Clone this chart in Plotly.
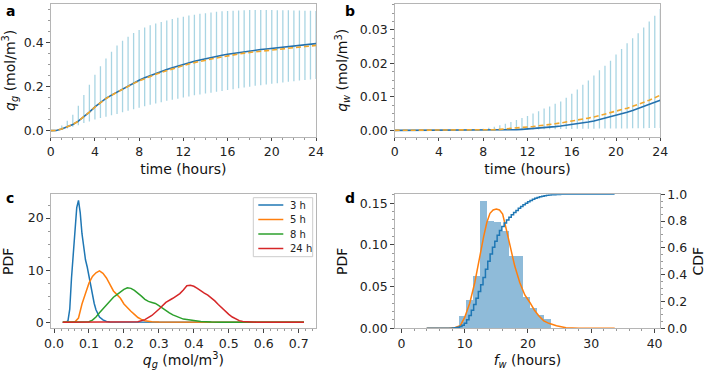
import plotly.graph_objects as go

# ---------------- data ----------------
# panel a / b : time grid (hours)
time_h = [0, 0.5, 1, 1.5, 2, 2.5, 3, 3.5, 4, 4.5, 5, 5.5, 6, 6.5, 7, 7.5, 8, 8.5, 9, 9.5,
          10, 10.5, 11, 11.5, 12, 12.5, 13, 13.5, 14, 14.5, 15, 15.5, 16, 16.5, 17, 17.5,
          18, 18.5, 19, 19.5, 20, 20.5, 21, 21.5, 22, 22.5, 23, 23.5, 24]

qg_lower = [0, 0, 0.005, 0.01, 0.018, 0.025, 0.035, 0.042, 0.05, 0.057, 0.063, 0.07, 0.076, 0.083,
            0.09, 0.097, 0.104, 0.111, 0.117, 0.123, 0.129, 0.135, 0.14, 0.145, 0.15, 0.155, 0.16,
            0.164, 0.168, 0.172, 0.176, 0.18, 0.184, 0.188, 0.192, 0.195, 0.199, 0.203, 0.206,
            0.209, 0.212, 0.215, 0.218, 0.221, 0.224, 0.227, 0.229, 0.232, 0.234]
qg_upper = [0, 0.002, 0.023, 0.045, 0.072, 0.113, 0.161, 0.208, 0.253, 0.291, 0.327, 0.357, 0.385,
            0.407, 0.425, 0.442, 0.456, 0.467, 0.477, 0.485, 0.492, 0.499, 0.505, 0.511, 0.516,
            0.521, 0.525, 0.529, 0.532, 0.535, 0.538, 0.540, 0.542, 0.543, 0.544, 0.545, 0.546,
            0.546, 0.546, 0.546, 0.546, 0.545, 0.545, 0.545, 0.544, 0.544, 0.543, 0.543, 0.542]
qg_mean = [0.0, 0.001, 0.008, 0.017, 0.028, 0.043, 0.062, 0.084, 0.108, 0.128, 0.146, 0.161, 0.175,
           0.189, 0.203, 0.216, 0.228, 0.239, 0.249, 0.259, 0.268, 0.277, 0.285, 0.293, 0.301,
           0.308, 0.314, 0.320, 0.326, 0.331, 0.336, 0.341, 0.346, 0.350, 0.354, 0.358, 0.361,
           0.364, 0.367, 0.370, 0.373, 0.376, 0.379, 0.381, 0.384, 0.386, 0.389, 0.391, 0.394]
qg_model = [0.0, 0.001, 0.008, 0.017, 0.028, 0.043, 0.062, 0.084, 0.107, 0.127, 0.145, 0.160, 0.174,
            0.188, 0.201, 0.214, 0.225, 0.236, 0.246, 0.255, 0.264, 0.272, 0.280, 0.287, 0.295,
            0.302, 0.308, 0.314, 0.319, 0.324, 0.329, 0.334, 0.339, 0.343, 0.347, 0.351, 0.354,
            0.357, 0.360, 0.363, 0.366, 0.369, 0.371, 0.374, 0.376, 0.379, 0.381, 0.383, 0.386]

qw_lower = [0, 0, 0, 0, 0, 0, 0, 0, 0, 0, 0, 0, 0, 0, 0, 0, 0, 0, 0.00005, 0.00008,
            0.0001, 0.00012, 0.00015, 0.00018, 0.0002, 0.00023, 0.00026, 0.0003, 0.00032, 0.00035,
            0.00037, 0.0004, 0.00042, 0.00044, 0.00046, 0.00048, 0.0005, 0.00051, 0.00052, 0.00053,
            0.00055, 0.00056, 0.00058, 0.0006, 0.00062, 0.00064, 0.00066, 0.00068, 0.0007]
qw_upper = [0, 0, 0, 0, 0, 0, 0, 0, 0, 0, 0, 0, 0.00003, 0.00008, 0.00015, 0.0003, 0.0005,
            0.0008, 0.0011, 0.0015, 0.002, 0.0025, 0.0031, 0.0037, 0.0043, 0.005, 0.0057, 0.0065,
            0.0071, 0.0079, 0.0086, 0.0097, 0.0109, 0.0122, 0.0136, 0.0149, 0.0164, 0.0179, 0.0193,
            0.0208, 0.0226, 0.0243, 0.026, 0.0275, 0.029, 0.0307, 0.0325, 0.0342, 0.0362]
qw_mean = [0, 0, 0, 0, 0, 0, 0, 0, 0, 0, 0, 0, 0, 0, 0, 0, 0.00001, 0.00003, 0.00005, 0.00008,
           0.0001, 0.00015, 0.0002, 0.0003, 0.0004, 0.0005, 0.0006, 0.00075, 0.0009, 0.0011,
           0.0013, 0.0015, 0.0017, 0.00195, 0.0022, 0.0025, 0.0028, 0.0032, 0.0036, 0.00405,
           0.0045, 0.00495, 0.0054, 0.00595, 0.0065, 0.0071, 0.0077, 0.00835, 0.009]
qw_model = [0, 0, 0, 0, 0, 0, 0, 0, 0, 0, 0, 0, 0, 0, 0, 0.00003, 0.0001, 0.00015, 0.0002, 0.0003,
            0.0004, 0.00055, 0.0007, 0.00085, 0.001, 0.00115, 0.0013, 0.0015, 0.0017, 0.00195,
            0.0022, 0.00245, 0.0027, 0.003, 0.0033, 0.00365, 0.004, 0.0044, 0.0048, 0.00525,
            0.0057, 0.00615, 0.0066, 0.00715, 0.0077, 0.00835, 0.009, 0.00975, 0.0105]

# panel c : PDFs of q_g at several times
pdf3_x = [0.025, 0.035, 0.040, 0.045, 0.050, 0.055, 0.060, 0.065, 0.070, 0.075, 0.080, 0.085,
          0.090, 0.095, 0.100, 0.105, 0.110, 0.115, 0.120, 0.130, 0.140, 0.150, 0.160, 0.715]
pdf3_y = [0, 0, 0.3, 2.5, 8.5, 13.5, 18.0, 22.0, 23.4, 21.0, 17.0, 14.0, 12.0, 10.6, 8.8, 6.8,
          5.0, 3.6, 2.4, 1.0, 0.45, 0.15, 0.03, 0]
pdf5_x = [0.025, 0.055, 0.060, 0.070, 0.080, 0.090, 0.100, 0.110, 0.120, 0.130, 0.140, 0.150,
          0.160, 0.170, 0.180, 0.190, 0.200, 0.210, 0.220, 0.230, 0.240, 0.250, 0.260, 0.280,
          0.300, 0.715]
pdf5_y = [0, 0, 0.1, 0.8, 3.5, 5.5, 7.5, 8.8, 9.5, 9.85, 9.4, 8.5, 7.3, 6.0, 5.3, 4.6, 3.5, 2.7,
          2.1, 1.5, 0.9, 0.55, 0.3, 0.1, 0.02, 0]
pdf8_x = [0.025, 0.090, 0.100, 0.110, 0.120, 0.130, 0.140, 0.150, 0.160, 0.170, 0.180, 0.190,
          0.200, 0.210, 0.220, 0.230, 0.240, 0.250, 0.260, 0.270, 0.280, 0.290, 0.300, 0.310,
          0.320, 0.330, 0.340, 0.350, 0.360, 0.370, 0.380, 0.390, 0.400, 0.420, 0.450, 0.480,
          0.715]
pdf8_y = [0, 0, 0.1, 0.4, 1.0, 1.8, 2.6, 3.4, 4.2, 4.8, 5.3, 5.8, 6.3, 6.6, 6.5, 6.1, 5.6, 5.0,
          4.4, 4.0, 3.8, 3.6, 3.2, 2.7, 2.2, 1.8, 1.4, 1.1, 0.8, 0.6, 0.5, 0.4, 0.3, 0.15, 0.03,
          0, 0]
pdf24_x = [0.025, 0.220, 0.240, 0.260, 0.280, 0.300, 0.320, 0.340, 0.350, 0.360, 0.370, 0.380,
           0.390, 0.400, 0.410, 0.420, 0.430, 0.440, 0.450, 0.460, 0.470, 0.480, 0.490, 0.500,
           0.510, 0.520, 0.530, 0.540, 0.560, 0.580, 0.715]
pdf24_y = [0, 0, 0.1, 0.5, 1.3, 2.5, 3.8, 4.6, 5.0, 5.5, 6.2, 7.0, 7.1, 6.9, 6.5, 6.0, 5.6, 5.2,
           4.7, 4.1, 3.4, 2.7, 2.1, 1.5, 1.0, 0.6, 0.3, 0.15, 0.03, 0, 0]
pdf_labels = ["3 h", "5 h", "8 h", "24 h"]
pdf_colors = ["#1f77b4", "#ff7f0e", "#2ca02c", "#d62728"]

# panel d : histogram, KDE and CDF of f_w
hist_edges = [9.1, 10.2, 11.3, 12.4, 13.5, 14.65, 15.75, 16.9, 18.0, 19.1, 20.2, 21.35, 22.5, 23.6]
hist_density = [0.015, 0.034, 0.063, 0.153, 0.128, 0.127, 0.116, 0.086, 0.087, 0.037, 0.024,
                0.016, 0.011]
kde_x = [4.0, 7.5, 8.5, 9.3, 10.0, 10.8, 11.6, 12.4, 13.0, 13.5, 14.0, 14.5, 15.0, 15.5, 16.0,
         16.6, 17.2, 17.9, 18.7, 19.5, 20.3, 21.0, 21.7, 22.5, 23.3, 24.5, 26.0, 28.0, 33.7]
kde_y = [0, 0, 0.001, 0.003, 0.013, 0.03, 0.055, 0.088, 0.11, 0.127, 0.138, 0.142, 0.143, 0.142,
         0.137, 0.118, 0.098, 0.075, 0.055, 0.04, 0.031, 0.022, 0.015, 0.009, 0.006, 0.003,
         0.0006, 0, 0]
cdf_x = [4.00, 4.37, 4.74, 5.11, 5.48, 5.86, 6.23, 6.60, 6.97, 7.34, 7.71, 8.08, 8.45, 8.82, 9.19,
         9.57, 9.94, 10.31, 10.68, 11.05, 11.42, 11.79, 12.16, 12.53, 12.90, 13.28, 13.65, 14.02,
         14.39, 14.76, 15.13, 15.50, 15.87, 16.24, 16.61, 16.99, 17.36, 17.73, 18.10, 18.47,
         18.84, 19.21, 19.58, 19.95, 20.32, 20.70, 21.07, 21.44, 21.81, 22.18, 22.55, 22.92,
         23.29, 23.66, 24.03, 24.41, 24.78, 25.15, 25.52, 25.89, 26.26, 26.63, 27.00, 27.37,
         27.74, 28.12, 28.49, 28.86, 29.23, 29.60, 29.97, 30.34, 30.71, 31.08, 31.45, 31.82,
         32.20, 32.57, 32.94, 33.31, 33.68]
cdf_y = [0, 0, 0, 0, 0, 0, 0, 0, 0, 0, 0, 0, 0.002, 0.004, 0.007, 0.013, 0.022, 0.038, 0.063,
         0.095, 0.135, 0.178, 0.225, 0.275, 0.325, 0.38, 0.44, 0.50, 0.555, 0.605, 0.65, 0.695,
         0.73, 0.76, 0.785, 0.808, 0.828, 0.847, 0.864, 0.88, 0.895, 0.909, 0.922, 0.934, 0.945,
         0.954, 0.963, 0.97, 0.976, 0.981, 0.985, 0.989, 0.992, 0.994, 0.996, 0.997, 0.998,
         0.999, 1.0, 1.0, 1.0, 1.0, 1.0, 1.0, 1.0, 1.0, 1.0, 1.0, 1.0, 1.0, 1.0, 1.0, 1.0, 1.0,
         1.0, 1.0, 1.0, 1.0, 1.0, 1.0, 1.0]

# ---------------- figure ----------------
W, H = 706, 370
FONT = "DejaVu Sans"
BAR_C = "#a9d5e3"
MEAN_C = "#2471ae"
MODEL_C = "#f2a72c"


def px_x(p):
    return p / W


def px_y(p):
    return 1 - p / H


def seg(xs, lo, hi):
    sx, sy = [], []
    for x, a, b in zip(xs, lo, hi):
        sx += [x, x, None]
        sy += [a, b, None]
    return sx, sy


fig = go.Figure()

# panel a
sx, sy = seg(time_h, qg_lower, qg_upper)
fig.add_trace(go.Scatter(x=sx, y=sy, mode="lines", line=dict(color=BAR_C, width=1.3),
                         xaxis="x", yaxis="y", showlegend=False, hoverinfo="skip"))
fig.add_trace(go.Scatter(x=time_h, y=qg_mean, mode="lines", line=dict(color=MEAN_C, width=1.6),
                         xaxis="x", yaxis="y", showlegend=False))
fig.add_trace(go.Scatter(x=time_h, y=qg_model, mode="lines",
                         line=dict(color=MODEL_C, width=1.6, dash="5px,3px"),
                         xaxis="x", yaxis="y", showlegend=False))
# panel b
sx, sy = seg(time_h, qw_lower, qw_upper)
fig.add_trace(go.Scatter(x=sx, y=sy, mode="lines", line=dict(color=BAR_C, width=1.3),
                         xaxis="x2", yaxis="y2", showlegend=False, hoverinfo="skip"))
fig.add_trace(go.Scatter(x=time_h, y=qw_mean, mode="lines", line=dict(color=MEAN_C, width=1.6),
                         xaxis="x2", yaxis="y2", showlegend=False))
fig.add_trace(go.Scatter(x=time_h, y=qw_model, mode="lines",
                         line=dict(color=MODEL_C, width=1.6, dash="5px,3px"),
                         xaxis="x2", yaxis="y2", showlegend=False))
# panel c
for xs, ys, name, col in zip([pdf3_x, pdf5_x, pdf8_x, pdf24_x],
                             [pdf3_y, pdf5_y, pdf8_y, pdf24_y], pdf_labels, pdf_colors):
    fig.add_trace(go.Scatter(x=xs, y=ys, mode="lines", name=name, line=dict(color=col, width=1.5),
                             xaxis="x3", yaxis="y3", showlegend=False))
# panel d
centers = [(a + b) / 2 for a, b in zip(hist_edges[:-1], hist_edges[1:])]
widths = [b - a for a, b in zip(hist_edges[:-1], hist_edges[1:])]
fig.add_trace(go.Bar(x=centers, y=hist_density, width=widths,
                     marker=dict(color="rgba(31,119,180,0.5)", line=dict(width=0)),
                     xaxis="x4", yaxis="y4", showlegend=False))
fig.add_trace(go.Scatter(x=kde_x, y=kde_y, mode="lines", line=dict(color="#ff7f0e", width=1.5),
                         xaxis="x4", yaxis="y4", showlegend=False))
fig.add_trace(go.Scatter(x=cdf_x, y=cdf_y, mode="lines", line=dict(color="#1f77b4", width=1.5,
                                                                   shape="vh"),
                         xaxis="x4", yaxis="y5", showlegend=False))

SPINE = "#b5b5b5"
TICKF = dict(family=FONT, size=12.5, color="#222")
TITLEF = dict(family=FONT, size=14, color="#111")


def ax(domain, rng, dtick, tick0=0, minor_dtick=None, title=None, standoff=6, fmt=None, **kw):
    d = dict(domain=domain, range=rng, dtick=dtick, tick0=tick0, showgrid=False, zeroline=False,
             showline=True, linecolor=SPINE, linewidth=1, mirror=True, ticks="outside",
             ticklen=3.5, tickwidth=1, tickcolor="#444", tickfont=TICKF, automargin=False)
    if minor_dtick:
        d["minor"] = dict(dtick=minor_dtick, ticks="outside", ticklen=2, tickcolor="#999",
                          tickwidth=0.8, showgrid=False)
    if title:
        d["title"] = dict(text=title, font=TITLEF, standoff=standoff)
    if fmt:
        d["tickformat"] = fmt
    d.update(kw)
    return d


xa = [px_x(50.7), px_x(316)]
xb = [px_x(394.7), px_x(660.3)]
ytop = [px_y(136.7), px_y(4)]
ybot = [px_y(328.3), px_y(194.3)]

fig.update_layout(
    width=W, height=H, margin=dict(l=0, r=0, t=0, b=0),
    paper_bgcolor="white", plot_bgcolor="white", bargap=0,
    font=dict(family=FONT), showlegend=False,
    xaxis=ax(xa, [0, 24], 4, minor_dtick=1, title="time (hours)", anchor="y", standoff=5),
    yaxis=ax(ytop, [-0.0273, 0.5733], 0.2, minor_dtick=0.05, fmt=".1f",
             title="<i>q</i><sub><i>g</i></sub> (mol/m<sup>3</sup>)", anchor="x", standoff=8),
    xaxis2=ax(xb, [0, 24], 4, minor_dtick=1, title="time (hours)", anchor="y2", standoff=5),
    yaxis2=ax(ytop, [-0.0019, 0.0377], 0.01, minor_dtick=0.0025, fmt=".2f",
              title="<i>q</i><sub><i>w</i></sub> (mol/m<sup>3</sup>)", anchor="x2", standoff=8),
    xaxis3=ax(xa, [-0.0095, 0.7495], 0.1, minor_dtick=0.02, fmt=".1f",
              title="<i>q</i><sub><i>g</i></sub> (mol/m<sup>3</sup>)", anchor="y3", standoff=5),
    yaxis3=ax(ybot, [-1.17, 24.57], 10, minor_dtick=2.5, title="PDF", anchor="x3", standoff=10),
    xaxis4=ax(xb, [-1.05, 40.9], 10, minor_dtick=2,
              title="<i>f</i><sub><i>w</i></sub> (hours)", anchor="y4", standoff=5),
    yaxis4=ax(ybot, [0, 0.1608], 0.05, minor_dtick=0.01, fmt=".2f", title="PDF", anchor="x4",
              standoff=8),
    yaxis5=ax(ybot, [0, 1.0], 0.2, minor_dtick=0.05, fmt=".1f", title="CDF", anchor="x4",
              overlaying="y4", side="right", mirror=False, standoff=6),
)

# compact legend for panel c (matplotlib style)
fig.add_shape(type="rect", xref="paper", yref="paper",
              x0=px_x(253.3), x1=px_x(312.7), y0=px_y(256.7), y1=px_y(197.7),
              line=dict(color="#cccccc", width=1), fillcolor="rgba(255,255,255,0.85)")
row_y = [205.0, 219.5, 234.0, 248.5]
for name, col, ry in zip(pdf_labels, pdf_colors, row_y):
    fig.add_shape(type="line", xref="paper", yref="paper",
                  x0=px_x(258.3), x1=px_x(283.3), y0=px_y(ry), y1=px_y(ry),
                  line=dict(color=col, width=1.5))
    fig.add_annotation(text=name, x=px_x(288.3), y=px_y(ry), xref="paper", yref="paper",
                       xanchor="left", yanchor="middle", showarrow=False,
                       font=dict(family=FONT, size=10, color="#222"))

for letter, x, y in [("a", 4, 1), ("b", 343, 1), ("c", 4, 188), ("d", 343, 188)]:
    fig.add_annotation(text="<b>%s</b>" % letter, x=px_x(x), y=px_y(y), xref="paper",
                       yref="paper", xanchor="left", yanchor="top", showarrow=False,
                       font=dict(family=FONT, size=14, color="black"))

fig.write_html("out.html", config={"displayModeBar": False},
               post_script="document.body.style.margin='0';"
                           "document.body.style.overflow='hidden';")
